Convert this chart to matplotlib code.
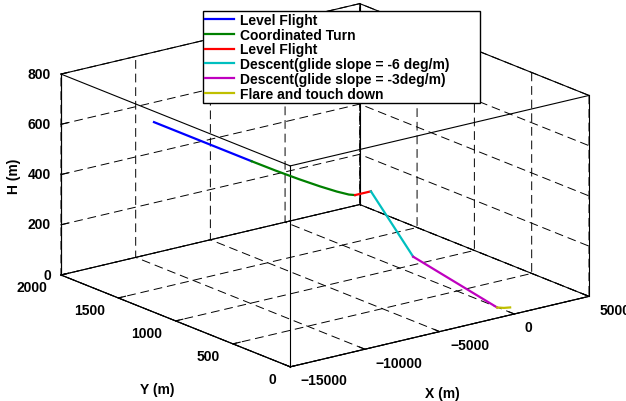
import numpy as np
import matplotlib.pyplot as plt
from mpl_toolkits.mplot3d import proj3d

plt.rcParams['font.family'] = ['Liberation Sans', 'DejaVu Sans']
plt.rcParams['font.weight'] = 'bold'
plt.rcParams['font.size'] = 10

# Datos (x, y, h en metros)
x_lvl1 = [-11460, -11460]
y_lvl1 = [1650, 800]
h_lvl1 = [623, 623]

x_turn = [-11460, -11433, -11353, -11226, -11060, -10867, -10660]
y_turn = [800, 593, 400, 234, 107, 27, 0]
h_turn = [623, 623, 623, 623, 623, 623, 623]

x_lvl2 = [-10660, -9600]
y_lvl2 = [0, 0]
h_lvl2 = [623, 623]

x_desc6 = [-9600, -6770]
y_desc6 = [0, 0]
h_desc6 = [623, 323]

x_desc3 = [-6770, -1150]
y_desc3 = [0, 0]
h_desc3 = [323, 42]

x_flare = [-1150, -700, -280]
y_flare = [0, 0, 0]
h_flare = [42, 34, 30]

labels = ['Level Flight', 'Coordinated Turn', 'Level Flight',
          'Descent(glide slope = -6 deg/m)', 'Descent(glide slope = -3deg/m)',
          'Flare and touch down']
colors = ['#0000ff', '#008000', '#ff0000', '#00bfbf', '#bf00bf', '#bfbf00']

xlim = (-15000, 5000)
ylim = (0, 2000)
zlim = (0, 800)
xticks = [-15000, -10000, -5000, 0, 5000]
yticks = [0, 500, 1000, 1500, 2000]
zticks = [0, 200, 400, 600, 800]

W, H = 626, 402
fig = plt.figure(figsize=(W/100, H/100), dpi=100)
ax = fig.add_subplot(projection='3d', proj_type='ortho', computed_zorder=False)
ax.view_init(elev=17.9, azim=-127.5)
ax.set_box_aspect((1, 1, 0.5607))

segs = [(x_lvl1, y_lvl1, h_lvl1), (x_turn, y_turn, h_turn), (x_lvl2, y_lvl2, h_lvl2),
        (x_desc6, y_desc6, h_desc6), (x_desc3, y_desc3, h_desc3), (x_flare, y_flare, h_flare)]

# caja completa
bx = [xlim[0], xlim[1]]
by = [ylim[0], ylim[1]]
bz = [zlim[0], zlim[1]]
for a in bx:
    for b in by:
        ax.plot([a, a], [b, b], bz, color='k', lw=0.8, zorder=1)
for a in bx:
    for c in bz:
        ax.plot([a, a], by, [c, c], color='k', lw=0.8, zorder=1)
for b in by:
    for c in bz:
        ax.plot(bx, [b, b], [c, c], color='k', lw=0.8, zorder=1)

handles = []
for (xs, ys, zs), lab, col in zip(segs, labels, colors):
    ln, = ax.plot(xs, ys, zs, color=col, lw=1.6, label=lab, zorder=3)
    handles.append(ln)

ax.set_xlim(*xlim)
ax.set_ylim(*ylim)
ax.set_zlim(*zlim)
ax.set_xticks(xticks)
ax.set_yticks(yticks)
ax.set_zticks(zticks)

for axis in (ax.xaxis, ax.yaxis, ax.zaxis):
    axis.pane.set_facecolor((1, 1, 1, 0))
    axis.pane.set_edgecolor((1, 1, 1, 0))
    axis.line.set_color('k')
    axis.line.set_linewidth(0.8)
    axis._axinfo['grid'].update(color='k', linewidth=0.7, linestyle=(0, (9, 5)))
    axis._axinfo['tick'].update(inward_factor=0.0, outward_factor=0.3)

ax.tick_params(axis='x', pad=1.5)
ax.tick_params(axis='y', pad=1.5)
ax.tick_params(axis='z', pad=-4)
for t in ax.xaxis.get_major_ticks():
    t.label1.set_ha('left')
    t.label1.set_va('center')
for t in ax.yaxis.get_major_ticks():
    t.label1.set_ha('right')
    t.label1.set_va('center')
for t in ax.zaxis.get_major_ticks():
    t.label1.set_ha('right')
    t.label1.set_va('center')

fig.text(442/W, 1 - 394/H, 'X (m)', ha='center', va='center', fontweight='bold')
fig.text(157/W, 1 - 390/H, 'Y (m)', ha='center', va='center', fontweight='bold')
fig.text(14/W, 1 - 176/H, 'H (m)', ha='center', va='center', rotation=90,
         fontweight='bold')

ax.legend(handles=handles, loc='upper left',
          bbox_to_anchor=(203/W, 1 - 100/H, 277/W, 88/H),
          bbox_transform=fig.transFigure, mode='expand', fancybox=False,
          framealpha=1, edgecolor='k', borderpad=0.15, labelspacing=0.05,
          handlelength=2.1, handletextpad=0.45, borderaxespad=0,
          prop={'weight': 'bold', 'size': 10})

# ajustar la posicion para que la caja caiga donde en la referencia
fig.canvas.draw()
M = ax.get_proj()
u, v, _ = proj3d.proj_transform(np.array([xlim[0], xlim[1]]), np.array([ylim[1], ylim[0]]),
                                np.array([0, 0]), M)
pts = ax.transData.transform(np.column_stack([u, v]))
bb = ax.get_position()
x0p, y0p, wp, hp = bb.x0*W, bb.y0*H, bb.width*W, bb.height*H
s = (589 - 61) / (pts[1, 0] - pts[0, 0])
nx0 = 61 - s*(pts[0, 0] - x0p)
ny0 = (H - 276) - s*(pts[0, 1] - y0p)
ax.set_position([nx0/W, ny0/H, s*wp/W, s*hp/H])

fig.savefig('out.png', dpi=100)
